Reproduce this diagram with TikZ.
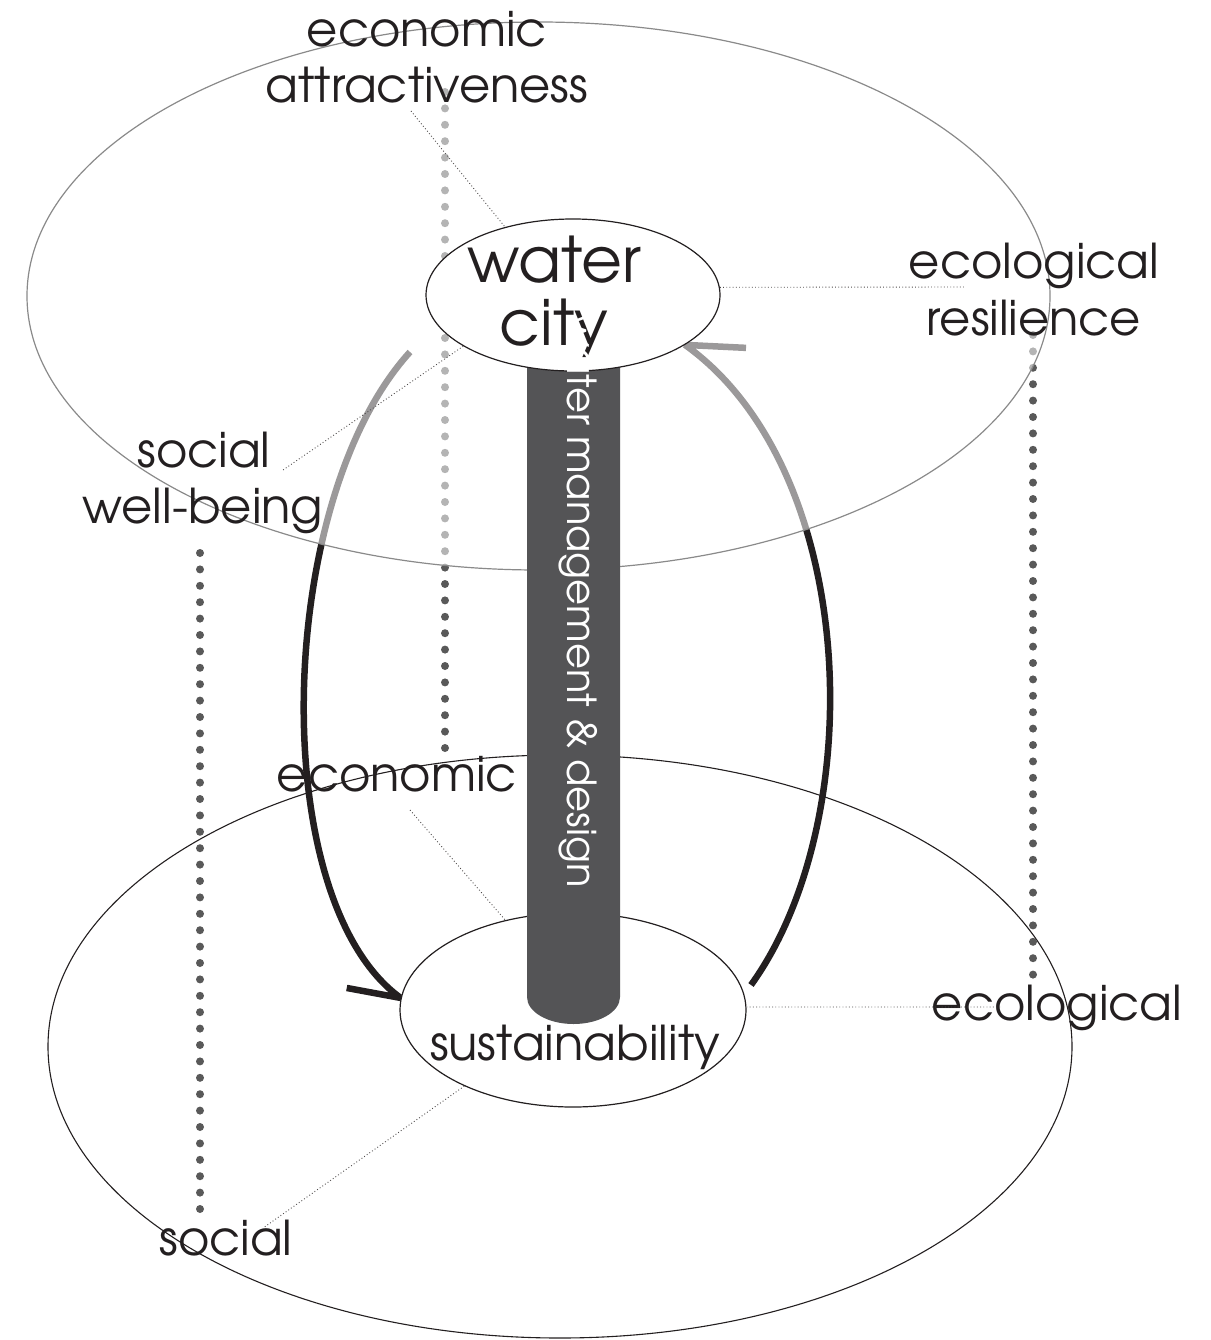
\documentclass[tikz,border=0pt]{standalone}
\usepackage{fontspec}
\setmainfont{texgyreadventor-regular.otf}
\usetikzlibrary{shapes.geometric}
\definecolor{ink}{HTML}{231F20}
\definecolor{pillar}{HTML}{545456}
\definecolor{dotgray}{HTML}{595959}
\definecolor{rimgray}{HTML}{8A8A8A}
\pgfdeclarelayer{under}
\pgfdeclarelayer{veil}
\pgfdeclarelayer{lowoval}
\pgfdeclarelayer{column}
\pgfsetlayers{under,veil,lowoval,column,main}

\begin{document}
\begin{tikzpicture}[x=1pt,y=-1pt,
  lbl/.style={text=ink, inner sep=0pt, anchor=base, font=\fontsize{48}{56}\selectfont},
  biglbl/.style={lbl, font=\fontsize{63}{63}\selectfont},
  bigdots/.style={dotgray, line width=8pt, line cap=round, dash pattern=on 0pt off 16.4pt},
  leader/.style={ink!80, line width=0.9pt, dash pattern=on 0.9pt off 2.3pt},
  loop/.style={ink, line width=6.5pt, line join=bevel},
  oval/.style={ellipse, draw=ink, line width=1.2pt, fill=white, inner sep=0pt},
  plane/.style={ellipse, inner sep=0pt}
]
\useasboundingbox (0,0) rectangle (1210,1340);

% the two planes
\begin{pgfonlayer}{under}
  \node[plane, draw=ink, line width=1.1pt, minimum width=1024pt, minimum height=583pt] (lowplane) at (560,1046.5) {};
\end{pgfonlayer}
\begin{pgfonlayer}{veil}
  \node[plane, draw=rimgray, line width=1.2pt, fill=white, fill opacity=0.55,
        minimum width=1023pt, minimum height=548pt] (topplane) at (538.5,296) {};
\end{pgfonlayer}

% central ovals
\begin{pgfonlayer}{lowoval}
  \node[oval, minimum width=346pt, minimum height=194pt] (su) at (573,1010) {};
\end{pgfonlayer}
\node[oval, minimum width=294pt, minimum height=152pt] (wc) at (573,295) {};
\node[biglbl] (w1) at (554,282) {water};
\node[biglbl] (w2) at (554,345) {city};
\node[lbl] (sus) at (575,1060) {sustainability};

% the column joining both ovals
\begin{pgfonlayer}{column}
  \fill[pillar] (527,300) -- (527,997)
     arc[start angle=180, end angle=0, x radius=46.5, y radius=27]
     -- (620,300) -- cycle;
\end{pgfonlayer}
\node[rotate=-90, anchor=base east, text=white, inner sep=0pt,
      font=\fontsize{40}{40}\selectfont] (wmd) at (567,888) {water management \& design};

% vertical dotted guides
\begin{pgfonlayer}{under}
  \coordinate (g1a) at (200,553);  \coordinate (g1b) at (200,1211);
  \coordinate (g2a) at (445,92);   \coordinate (g2b) at (445,749);
  \coordinate (g3a) at (1033,335); \coordinate (g3b) at (1033,975);
  \draw[bigdots] (g1a) -- (g1b);
  \draw[bigdots] (g2a) -- (g2b);
  \draw[bigdots] (g3a) -- (g3b);

  % feedback loop between the ovals
  \coordinate (la) at (410,352);
  \coordinate (lb) at (751,985);
  \draw[loop] (la) .. controls (275,500) and (265,900) .. (su.176) -- ++(-54,-10);
  \draw[loop] (lb) .. controls (870,820) and (860,470) .. (wc.336) -- ++(61,3);
\end{pgfonlayer}

% labels
\node[lbl] (ec1) at (427,47) {economic};
\node[lbl] (ec2) at (427,103) {attractiveness};
\node[lbl] (er1) at (1034,278) {ecological};
\node[lbl] (er2) at (1034,335) {resilience};
\node[lbl] (sw1) at (204,467) {social};
\node[lbl] (sw2) at (203,523) {well-being};
\node[lbl] (lec) at (397,791) {economic};
\node[lbl] (lel) at (1057,1020) {ecological};
\node[lbl] (lso) at (226,1255) {social};

% leader lines
\coordinate (ka) at (411,111);
\coordinate (kb) at (965,287);
\coordinate (kc) at (283,470);
\coordinate (kd) at (410,810);
\coordinate (ke) at (1000,1007);
\coordinate (kf) at (263,1228);
\draw[leader] (ka) -- (wc.135);
\draw[leader] (wc.3) -- (kb);
\draw[leader] (wc.205) -- (kc);
\draw[leader] (kd) -- (su.127);
\draw[leader] (su.1) -- (ke);
\draw[leader] (su.215) -- (kf);
\end{tikzpicture}
\end{document}
